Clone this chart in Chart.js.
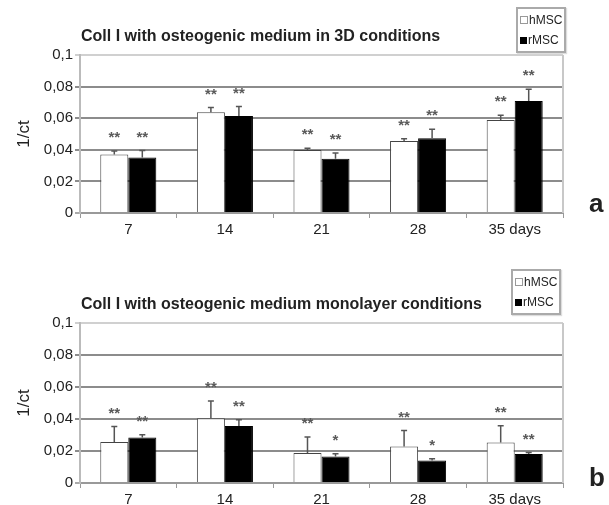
<!DOCTYPE html>
<html>
<head>
<meta charset="utf-8">
<script src="https://cdn.jsdelivr.net/npm/chart.js@4"></script>
<style>
  html, body { margin: 0; padding: 0; background: #fff; }
  #wrap { position: relative; width: 609px; height: 505px; font-family: "Liberation Sans", Arial, sans-serif; color: #222; }
  canvas { position: absolute; left: 0; }
  .title { position: absolute; font-weight: bold; font-size: 16px; white-space: nowrap; }
  .legend { position: absolute; border: 2px solid #aaa; background: #fff; font-size: 12px; padding: 1px 2px 1px 2px; box-shadow: 1px 1px 1px #ddd; }
  .legend div { display: flex; align-items: center; height: 20px; }
  .sw { display: inline-block; width: 7px; height: 7px; margin-right: 1px; }
  .panel { position: absolute; font-weight: bold; font-size: 26px; }
</style>
</head>
<body>
<div id="wrap">
  <canvas id="chartA" width="609" height="250" style="top:0"></canvas>
  <canvas id="chartB" width="609" height="255" style="top:250px"></canvas>
  <div class="title" style="left:81px;top:27px">Coll I with osteogenic medium in 3D conditions</div>
  <div class="title" style="left:81px;top:295px">Coll I with osteogenic medium monolayer conditions</div>
  <div class="legend" style="left:516px;top:7px">
    <div><span class="sw" style="border:1px solid #999;width:6px;height:6px"></span>hMSC</div>
    <div><span class="sw" style="background:#000"></span>rMSC</div>
  </div>
  <div class="legend" style="left:511px;top:269px">
    <div><span class="sw" style="border:1px solid #999;width:6px;height:6px"></span>hMSC</div>
    <div><span class="sw" style="background:#000"></span>rMSC</div>
  </div>
  <div class="panel" style="left:589px;top:188px">a</div>
  <div class="panel" style="left:589px;top:462px">b</div>
</div>
<script>
// Données
const days = ["7", "14", "21", "28", "35 days"];
const seriesNames = ["hMSC", "rMSC"];
const yTickLabels = ["0", "0,02", "0,04", "0,06", "0,08", "0,1"];

// 3D
const h3d = [0.037, 0.0637, 0.0398, 0.0456, 0.0589];
const h3dErr = [0.0023, 0.003, 0.0012, 0.0014, 0.003];
const h3dStars = ["**", "**", "**", "**", "**"];
const r3d = [0.0351, 0.0614, 0.0343, 0.0473, 0.0709];
const r3dErr = [0.0044, 0.006, 0.0036, 0.0057, 0.0074];
const r3dStars = ["**", "**", "**", "**", "**"];

// monolayer
const hMono = [0.0256, 0.0405, 0.0187, 0.0228, 0.0253];
const hMonoErr = [0.0097, 0.0108, 0.01, 0.01, 0.0105];
const hMonoStars = ["**", "**", "**", "**", "**"];
const rMono = [0.0284, 0.0357, 0.0166, 0.0141, 0.0181];
const rMonoErr = [0.0017, 0.0038, 0.0017, 0.0011, 0.001];
const rMonoStars = ["**", "**", "*", "*", "**"];

const FONT = "'Liberation Sans', Arial, sans-serif";

// barres d'erreur + étoiles
const errorBars = {
  id: "errorBars",
  afterDatasetsDraw(chart) {
    const { ctx, scales } = chart;
    chart.data.datasets.forEach((ds, i) => {
      chart.getDatasetMeta(i).data.forEach((bar, j) => {
        const yTop = scales.y.getPixelForValue(ds.data[j] + ds.err[j]);
        ctx.save();
        ctx.strokeStyle = "#555";
        ctx.lineWidth = 1.5;
        ctx.beginPath();
        ctx.moveTo(bar.x, bar.y);
        ctx.lineTo(bar.x, yTop);
        ctx.moveTo(bar.x - 3, yTop);
        ctx.lineTo(bar.x + 3, yTop);
        ctx.stroke();
        ctx.fillStyle = "#5a5a5a";
        ctx.font = "bold 15px " + FONT;
        ctx.textAlign = "center";
        ctx.textBaseline = "middle";
        ctx.fillText(ds.stars[j], bar.x, yTop - 13);
        ctx.restore();
      });
    });
  },
};

// cadre droit
const frame = {
  id: "frame",
  beforeDatasetsDraw(chart) {
    const { ctx, chartArea } = chart;
    ctx.save();
    ctx.strokeStyle = "#c8c8c8";
    ctx.lineWidth = 2;
    ctx.beginPath();
    ctx.moveTo(chartArea.right, chartArea.top);
    ctx.lineTo(chartArea.right, chartArea.bottom);
    ctx.stroke();
    ctx.restore();
  },
};

function makeChart(id, hData, hErr, hStars, rData, rErr, rStars, top, xHeight) {
  return new Chart(document.getElementById(id), {
    type: "bar",
    data: {
      labels: days,
      datasets: [
        {
          label: seriesNames[0],
          data: hData,
          err: hErr,
          stars: hStars,
          backgroundColor: "#fff",
          borderColor: "#444",
          borderWidth: 1,
          barPercentage: 1,
          categoryPercentage: 0.58,
        },
        {
          label: seriesNames[1],
          data: rData,
          err: rErr,
          stars: rStars,
          backgroundColor: "#000",
          borderColor: "#000",
          borderWidth: 1,
          barPercentage: 1,
          categoryPercentage: 0.58,
        },
      ],
    },
    options: {
      responsive: false,
      animation: false,
      layout: { padding: { top: top, right: 46, left: 0, bottom: 0 } },
      plugins: { legend: { display: false }, title: { display: false }, tooltip: { enabled: false } },
      scales: {
        x: {
          afterFit: (s) => { s.height = xHeight; },
          grid: { offset: true, drawOnChartArea: false, tickLength: 5, color: "#999", lineWidth: 1 },
          border: { color: "#999", width: 2 },
          ticks: { color: "#222", font: { size: 15, family: FONT }, padding: 3, maxRotation: 0 },
        },
        y: {
          min: 0,
          max: 0.1,
          afterFit: (s) => { s.width = 80; },
          grid: {
            tickLength: 5,
            lineWidth: 2,
            color: (c) => (c.index === 5 ? "#d0d0d0" : c.index === 0 ? "#aaa" : "#8c8c8c"),
          },
          border: { color: "#bbb", width: 2 },
          ticks: {
            stepSize: 0.02,
            padding: 2,
            color: "#222",
            font: { size: 15, family: FONT },
            callback: (v, i) => yTickLabels[i],
          },
          title: { display: true, text: "1/ct", color: "#222", font: { size: 17, family: FONT }, padding: { top: 14, bottom: 0 } },
        },
      },
    },
    plugins: [frame, errorBars],
  });
}

makeChart("chartA", h3d, h3dErr, h3dStars, r3d, r3dErr, r3dStars, 55, 37);
makeChart("chartB", hMono, hMonoErr, hMonoStars, rMono, rMonoErr, rMonoStars, 73, 22);
</script>
</body>
</html>
